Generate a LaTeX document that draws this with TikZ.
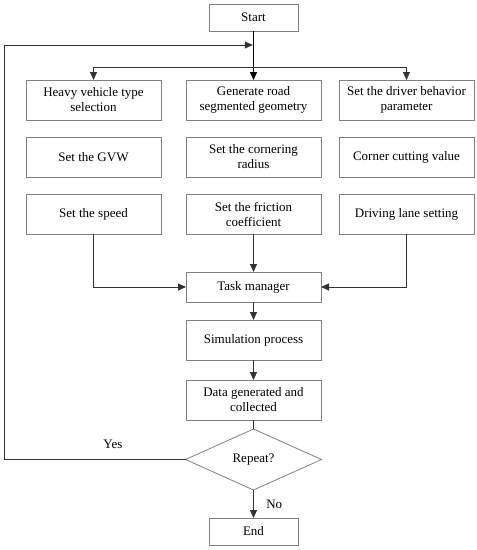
\documentclass[tikz,border=0pt]{standalone}
\usepackage{fontspec}
\setmainfont{Liberation Serif}
\usetikzlibrary{positioning,shapes.geometric,arrows.meta}

\tikzset{
  label font/.style={font=\fontsize{13}{15}\selectfont},
  box/.style={draw=gray, line width=0.8pt, minimum width=135pt, minimum height=40pt,
    align=center, inner sep=2pt, outer sep=0pt, label font},
  terminal/.style={box, minimum width=89pt, minimum height=27pt},
  decision/.style={diamond, draw=gray, line width=0.8pt, minimum width=136pt,
    minimum height=61pt, aspect=2.2, inner sep=1pt, outer sep=0pt, label font},
  flow/.style={draw=black!80, line width=0.85pt},
  arrow/.style={flow, -{Triangle[length=8pt,width=7pt]}},
}

\begin{document}
\begin{tikzpicture}[x=1pt, y=-1pt]
    \useasboundingbox (0,0) rectangle (477,550);
    % Nodes
    \node[terminal] (start) at (253.5,17.5) {Start} ; %
    \node[box, below=49pt of start] (geometry) {Generate road\\segmented geometry} ; %
    \node[box, left=25pt of geometry] (vehicle) {Heavy vehicle type\\selection} ; %
    \node[box, right=18pt of geometry] (driver) {Set the driver behavior\\parameter} ; %
    \node[box, below=17pt of vehicle] (gvw) {Set the GVW} ; %
    \node[box, below=17pt of geometry] (radius) {Set the cornering\\radius} ; %
    \node[box, below=17pt of driver] (cutting) {Corner cutting value} ; %
    \node[box, below=17pt of gvw] (speed) {Set the speed} ; %
    \node[box, below=17pt of radius] (friction) {Set the friction\\coefficient} ; %
    \node[box, below=17pt of cutting] (lane) {Driving lane setting} ; %
    \node[box, minimum height=30pt, below=38pt of friction] (task) {Task manager} ; %
    \node[box, below=18pt of task] (simulation) {Simulation process} ; %
    \node[box, below=20pt of simulation] (data) {Data generated and\\collected} ; %
    \node[decision, below=9pt of data] (repeat) {Repeat?} ; %
    \node[terminal, below=28pt of repeat] (end) {End} ; %
    \coordinate[below=36pt of start] (split) ; %
    \coordinate[below=14pt of start, xshift=-0.7pt] (merge) ; %
    \coordinate (rim) at (4,45) ; %
    % Edges
    \draw[arrow, draw=black, line width=1.3pt] (start) -- (geometry) ; %
    \draw[arrow] (split) -| (vehicle) ; %
    \draw[arrow] (split) -| (driver) ; %
    \draw[arrow] (speed) |- (task) ; %
    \draw[arrow] (friction) -- (task) ; %
    \draw[arrow] (lane) |- (task) ; %
    \draw[arrow] (task) -- (simulation) ; %
    \draw[arrow] (simulation) -- (data) ; %
    \draw[flow] (data) -- (repeat) ; %
    \draw[arrow] (repeat) -- node[right=9pt, label font] {No} (end) ; %
    \draw[arrow] (repeat.west) -- node[above=7pt, pos=0.4, label font] {Yes} (repeat.west -| rim) -- (rim) -- (merge) ; %
  \end{tikzpicture}
\end{document}
